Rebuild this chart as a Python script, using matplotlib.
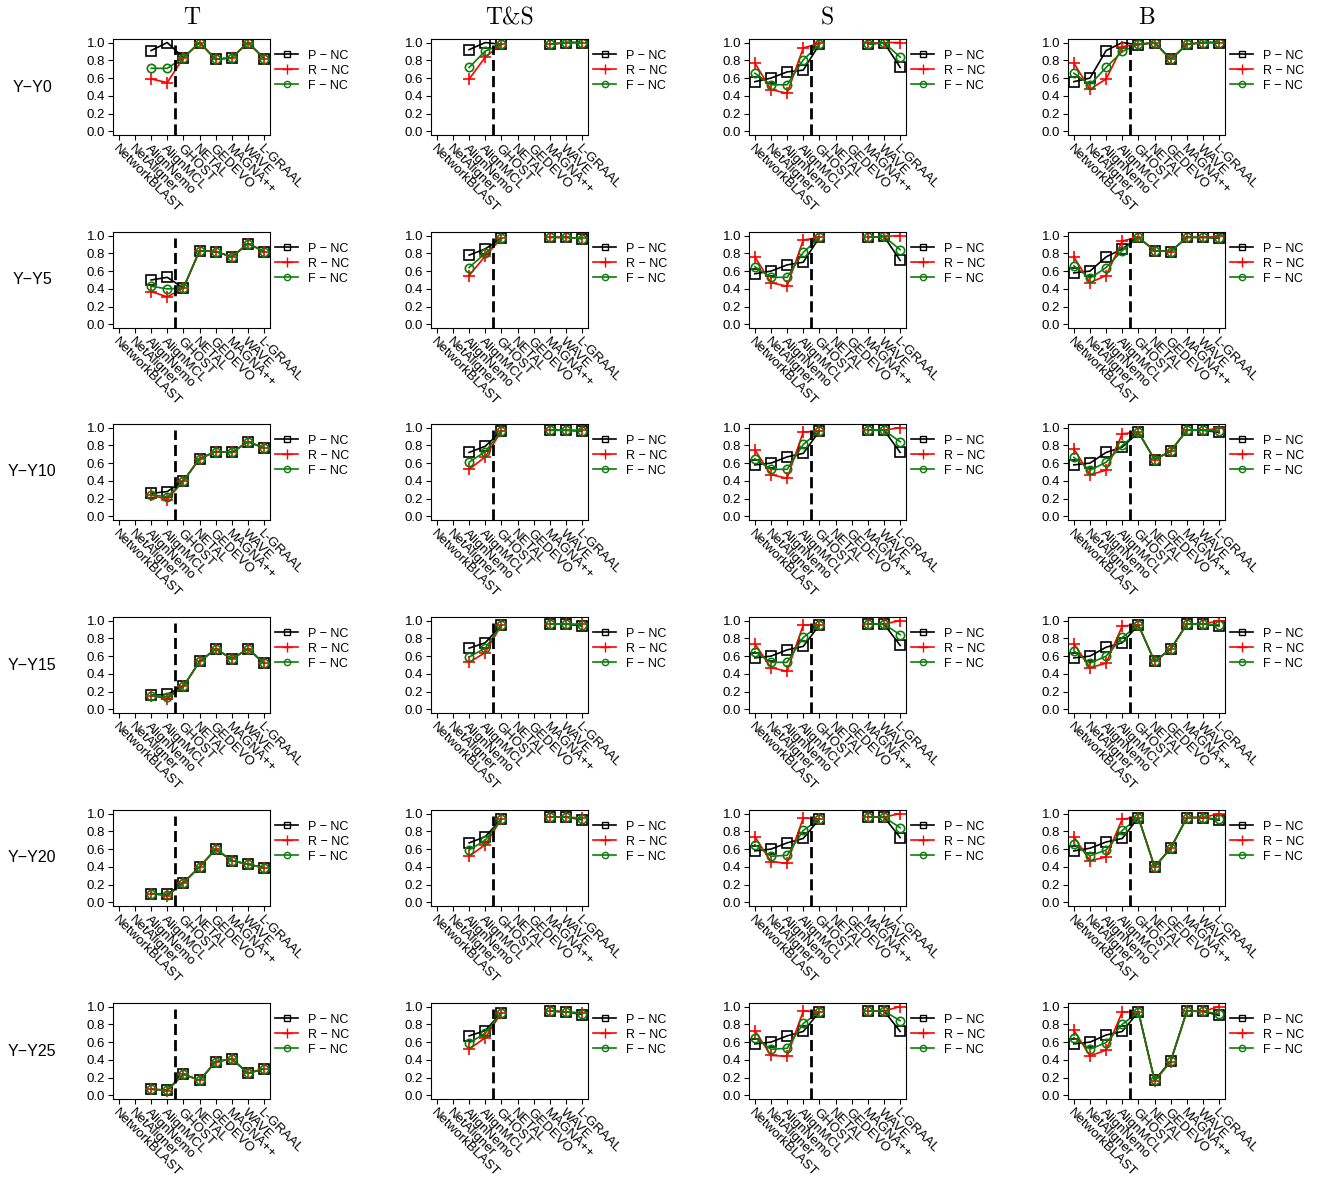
import numpy as np
import matplotlib.pyplot as plt
from matplotlib.lines import Line2D

plt.rcParams['font.family'] = ['Liberation Sans', 'DejaVu Sans']

nan = np.nan
methods = ["NetworkBLAST", "NetAligner", "AlignNemo", "AlignMCL", "GHOST",
           "NETAL", "GEDEVO", "MAGNA++", "WAVE", "L-GRAAL"]
col_titles = ["T", "T&S", "S", "B"]
row_labels = ["Y\u2212Y0", "Y\u2212Y5", "Y\u2212Y10", "Y\u2212Y15", "Y\u2212Y20", "Y\u2212Y25"]
series_labels = ["P \u2212 NC", "R \u2212 NC", "F \u2212 NC"]

# column T (one row per noise level)
T_P = [[nan, nan, 0.91, 1.00, 0.83, 1.00, 0.81, 0.83, 1.00, 0.82],
       [nan, nan, 0.50, 0.53, 0.41, 0.83, 0.82, 0.76, 0.91, 0.82],
       [nan, nan, 0.26, 0.28, 0.40, 0.65, 0.73, 0.72, 0.84, 0.77],
       [nan, nan, 0.16, 0.17, 0.26, 0.54, 0.68, 0.57, 0.68, 0.52],
       [nan, nan, 0.10, 0.09, 0.22, 0.40, 0.60, 0.47, 0.43, 0.39],
       [nan, nan, 0.07, 0.06, 0.24, 0.17, 0.38, 0.41, 0.25, 0.30]]
T_R = [[nan, nan, 0.59, 0.55, 0.83, 1.00, 0.81, 0.83, 1.00, 0.82],
       [nan, nan, 0.37, 0.31, 0.41, 0.83, 0.82, 0.76, 0.91, 0.82],
       [nan, nan, 0.24, 0.19, 0.40, 0.65, 0.73, 0.72, 0.84, 0.77],
       [nan, nan, 0.155, 0.12, 0.26, 0.54, 0.68, 0.57, 0.68, 0.52],
       [nan, nan, 0.10, 0.075, 0.22, 0.40, 0.60, 0.47, 0.43, 0.39],
       [nan, nan, 0.07, 0.055, 0.24, 0.17, 0.38, 0.41, 0.25, 0.30]]
T_F = [[nan, nan, 0.71, 0.71, 0.83, 1.00, 0.81, 0.83, 1.00, 0.82],
       [nan, nan, 0.43, 0.40, 0.41, 0.83, 0.82, 0.76, 0.91, 0.82],
       [nan, nan, 0.245, 0.22, 0.40, 0.65, 0.73, 0.72, 0.84, 0.77],
       [nan, nan, 0.155, 0.14, 0.26, 0.54, 0.68, 0.57, 0.68, 0.52],
       [nan, nan, 0.10, 0.08, 0.22, 0.40, 0.60, 0.47, 0.43, 0.39],
       [nan, nan, 0.07, 0.06, 0.24, 0.17, 0.38, 0.41, 0.25, 0.30]]

# column T&S
TS_P = [[nan, nan, 0.92, 1.00, 0.98, nan, nan, 0.98, 1.00, 1.00],
        [nan, nan, 0.78, 0.85, 0.97, nan, nan, 0.98, 0.98, 0.965],
        [nan, nan, 0.72, 0.79, 0.96, nan, nan, 0.97, 0.97, 0.96],
        [nan, nan, 0.69, 0.75, 0.95, nan, nan, 0.96, 0.96, 0.94],
        [nan, nan, 0.67, 0.74, 0.94, nan, nan, 0.96, 0.96, 0.93],
        [nan, nan, 0.67, 0.73, 0.93, nan, nan, 0.95, 0.94, 0.91]]
TS_R = [[nan, nan, 0.59, 0.835, 0.98, nan, nan, 0.98, 1.00, 1.00],
        [nan, nan, 0.55, 0.77, 0.97, nan, nan, 0.98, 0.98, 0.97],
        [nan, nan, 0.53, 0.67, 0.96, nan, nan, 0.97, 0.97, 0.97],
        [nan, nan, 0.53, 0.64, 0.95, nan, nan, 0.96, 0.96, 0.96],
        [nan, nan, 0.52, 0.65, 0.94, nan, nan, 0.96, 0.96, 0.95],
        [nan, nan, 0.52, 0.65, 0.93, nan, nan, 0.95, 0.94, 0.93]]
TS_F = [[nan, nan, 0.72, 0.905, 0.98, nan, nan, 0.98, 1.00, 1.00],
        [nan, nan, 0.64, 0.80, 0.97, nan, nan, 0.98, 0.98, 0.965],
        [nan, nan, 0.61, 0.73, 0.96, nan, nan, 0.97, 0.97, 0.96],
        [nan, nan, 0.59, 0.69, 0.95, nan, nan, 0.96, 0.96, 0.95],
        [nan, nan, 0.59, 0.70, 0.94, nan, nan, 0.96, 0.96, 0.94],
        [nan, nan, 0.59, 0.70, 0.93, nan, nan, 0.95, 0.94, 0.92]]

# column S
S_P = [[0.56, 0.60, 0.67, 0.69, 0.98, nan, nan, 0.98, 1.00, 0.72],
       [0.57, 0.60, 0.67, 0.70, 0.98, nan, nan, 0.98, 0.99, 0.72],
       [0.58, 0.60, 0.67, 0.71, 0.96, nan, nan, 0.97, 0.97, 0.72],
       [0.58, 0.60, 0.67, 0.71, 0.95, nan, nan, 0.96, 0.96, 0.72],
       [0.58, 0.60, 0.67, 0.72, 0.94, nan, nan, 0.96, 0.96, 0.73],
       [0.58, 0.60, 0.67, 0.72, 0.94, nan, nan, 0.95, 0.95, 0.72]]
S_R = [[0.77, 0.47, 0.43, 0.94, 0.99, nan, nan, 0.99, 1.00, 1.00],
       [0.76, 0.47, 0.43, 0.95, 0.98, nan, nan, 0.98, 0.99, 1.00],
       [0.75, 0.47, 0.43, 0.95, 0.96, nan, nan, 0.97, 0.97, 1.00],
       [0.74, 0.47, 0.43, 0.95, 0.95, nan, nan, 0.96, 0.96, 1.00],
       [0.74, 0.46, 0.44, 0.95, 0.94, nan, nan, 0.96, 0.96, 1.00],
       [0.73, 0.45, 0.44, 0.95, 0.94, nan, nan, 0.95, 0.95, 1.00]]
S_F = [[0.655, 0.525, 0.525, 0.805, 0.98, nan, nan, 0.98, 1.00, 0.835],
       [0.65, 0.53, 0.53, 0.81, 0.98, nan, nan, 0.98, 0.99, 0.84],
       [0.65, 0.53, 0.53, 0.81, 0.96, nan, nan, 0.97, 0.97, 0.84],
       [0.65, 0.53, 0.53, 0.81, 0.95, nan, nan, 0.96, 0.96, 0.84],
       [0.65, 0.52, 0.53, 0.81, 0.94, nan, nan, 0.96, 0.96, 0.84],
       [0.65, 0.52, 0.53, 0.81, 0.94, nan, nan, 0.95, 0.95, 0.84]]

# column B
B_P = [[0.56, 0.60, 0.91, 1.00, 0.975, 1.00, 0.81, 0.98, 1.00, 1.00],
       [0.58, 0.60, 0.76, 0.85, 0.98, 0.83, 0.82, 0.98, 0.98, 0.97],
       [0.58, 0.60, 0.72, 0.78, 0.945, 0.64, 0.735, 0.97, 0.97, 0.945],
       [0.58, 0.60, 0.70, 0.75, 0.95, 0.54, 0.68, 0.96, 0.96, 0.94],
       [0.58, 0.61, 0.68, 0.72, 0.955, 0.40, 0.61, 0.955, 0.955, 0.925],
       [0.58, 0.60, 0.68, 0.72, 0.94, 0.17, 0.39, 0.95, 0.945, 0.90]]
B_R = [[0.77, 0.475, 0.59, 0.955, 0.98, 1.00, 0.81, 0.98, 1.00, 1.00],
       [0.76, 0.47, 0.55, 0.94, 0.98, 0.83, 0.82, 0.98, 0.98, 0.99],
       [0.76, 0.47, 0.52, 0.93, 0.95, 0.64, 0.735, 0.97, 0.97, 0.99],
       [0.74, 0.47, 0.52, 0.94, 0.95, 0.54, 0.68, 0.96, 0.96, 1.00],
       [0.74, 0.47, 0.51, 0.94, 0.955, 0.40, 0.61, 0.955, 0.955, 1.00],
       [0.735, 0.445, 0.51, 0.94, 0.94, 0.16, 0.38, 0.95, 0.945, 1.00]]
B_F = [[0.655, 0.525, 0.72, 0.90, 0.98, 1.00, 0.81, 0.98, 1.00, 1.00],
       [0.66, 0.52, 0.64, 0.83, 0.98, 0.83, 0.82, 0.98, 0.98, 0.975],
       [0.665, 0.52, 0.61, 0.80, 0.95, 0.64, 0.735, 0.97, 0.97, 0.96],
       [0.66, 0.52, 0.60, 0.81, 0.95, 0.54, 0.68, 0.96, 0.96, 0.95],
       [0.66, 0.525, 0.59, 0.81, 0.955, 0.40, 0.61, 0.955, 0.955, 0.935],
       [0.65, 0.52, 0.595, 0.80, 0.94, 0.17, 0.385, 0.95, 0.945, 0.92]]

columns = [(T_P, T_R, T_F), (TS_P, TS_R, TS_F), (S_P, S_R, S_F), (B_P, B_R, B_F)]

colors = ["black", "#FF0000", "#0A7D0A"]
markers = ["s", "+", "o"]
msizes = [6.5, 9, 6]

W, H = 1322, 1178
fig = plt.figure(figsize=(W / 100, H / 100), dpi=100)
col_left = [113, 431, 749, 1068]
row_top = [39, 232, 424, 617, 810, 1003]
ax_w, ax_h = 157, 96
x = np.arange(1, len(methods) + 1)

for c, (P, R, F) in enumerate(columns):
    for r in range(len(row_labels)):
        ax = fig.add_axes([col_left[c] / W, 1 - (row_top[r] + ax_h) / H, ax_w / W, ax_h / H])
        for k, vals in enumerate((P[r], R[r], F[r])):
            ax.plot(x, vals, color=colors[k], marker=markers[k], markersize=msizes[k],
                    markerfacecolor="none", markeredgewidth=1.2, linewidth=1.2)
        # separator between the two groups of aligners
        ax.plot([4.5, 4.5], [-0.04, 0.97], color="black", linewidth=2.0,
                dashes=(4, 1.8), solid_capstyle="butt")
        ax.set_xlim(0.64, 10.36)
        ax.set_ylim(-0.04, 1.04)
        ax.set_yticks(np.arange(0, 1.01, 0.2))
        ax.set_yticklabels([f"{v:.1f}" for v in np.arange(0, 1.01, 0.2)])
        ax.set_xticks(x)
        ax.set_xticklabels(methods, rotation=-45, ha="left", va="top",
                           rotation_mode="anchor")
        ax.tick_params(labelsize=9.5, length=3.5, width=0.8, pad=2, colors="black")
        for s in ax.spines.values():
            s.set_linewidth(0.8)
        handles = [Line2D([], [], color=colors[k], marker=markers[k],
                          markersize=[4.5, 7, 4.5][k], markerfacecolor="none",
                          linewidth=1.2) for k in range(3)]
        ax.legend(handles, series_labels, loc="upper left", bbox_to_anchor=(1.03, 0.89),
                  frameon=False, fontsize=9, handlelength=1.9, handletextpad=0.8,
                  labelspacing=0.25, borderaxespad=0, borderpad=0)
        if c == 0:
            fig.text(32 / W, 1 - (row_top[r] + ax_h / 2) / H, row_labels[r],
                     ha="center", va="center", fontsize=11.5)
    fig.text((col_left[c] + ax_w / 2) / W, 1 - 18 / H, col_titles[c],
             ha="center", va="center", fontsize=17, family=["cmr10", "DejaVu Serif"])

plt.savefig("out.png", dpi=100)
